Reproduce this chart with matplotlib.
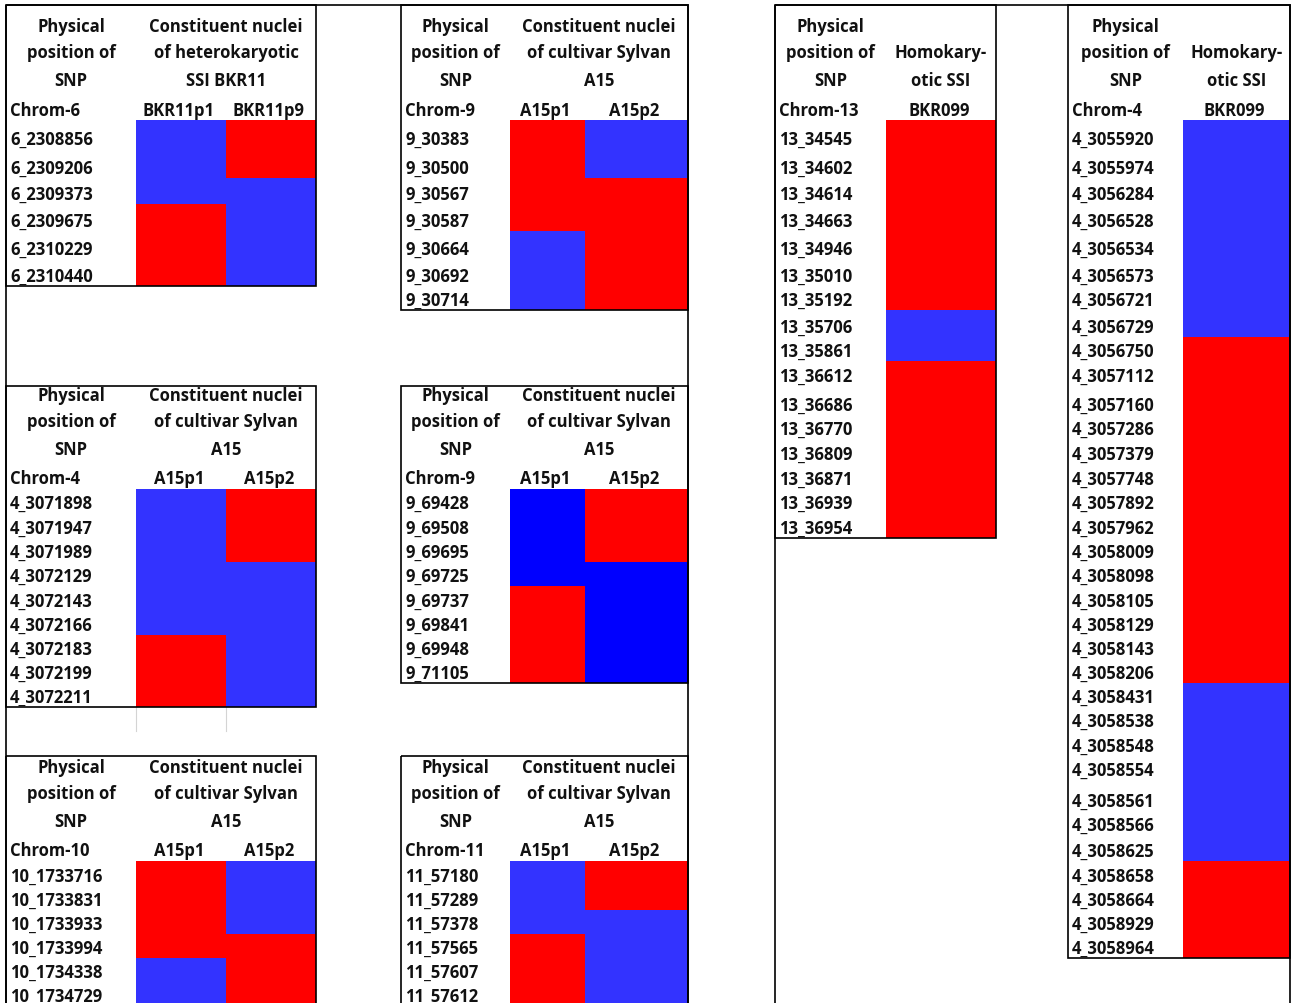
import matplotlib
matplotlib.use("Agg")
import matplotlib.pyplot as plt
from matplotlib.colors import ListedColormap
from matplotlib.patches import Rectangle
import numpy as np

plt.rcParams["font.family"] = ["Open Sans", "DejaVu Sans"]
plt.rcParams["font.weight"] = "bold"

# ---------------------------------------------------------------- data
# allele call per SNP and nucleus: 1 = red allele, 0 = blue allele

chr6_snps = ["6_2308856", "6_2309206", "6_2309373", "6_2309675", "6_2310229", "6_2310440"]
chr6_bkr11p1 = [0, 0, 0, 1, 1, 1]
chr6_bkr11p9 = [1, 1, 0, 0, 0, 0]

chr9a_snps = ["9_30383", "9_30500", "9_30567", "9_30587", "9_30664", "9_30692", "9_30714"]
chr9a_a15p1 = [1, 1, 1, 1, 0, 0, 0]
chr9a_a15p2 = [0, 0, 1, 1, 1, 1, 1]

chr4a_snps = ["4_3071898", "4_3071947", "4_3071989", "4_3072129", "4_3072143",
              "4_3072166", "4_3072183", "4_3072199", "4_3072211"]
chr4a_a15p1 = [0, 0, 0, 0, 0, 0, 1, 1, 1]
chr4a_a15p2 = [1, 1, 1, 0, 0, 0, 0, 0, 0]

chr9b_snps = ["9_69428", "9_69508", "9_69695", "9_69725", "9_69737", "9_69841", "9_69948", "9_71105"]
chr9b_a15p1 = [0, 0, 0, 0, 1, 1, 1, 1]
chr9b_a15p2 = [1, 1, 1, 0, 0, 0, 0, 0]

chr10_snps = ["10_1733716", "10_1733831", "10_1733933", "10_1733994", "10_1734338", "10_1734729"]
chr10_a15p1 = [1, 1, 1, 1, 0, 0]
chr10_a15p2 = [0, 0, 0, 1, 1, 1]

chr11_snps = ["11_57180", "11_57289", "11_57378", "11_57565", "11_57607", "11_57612"]
chr11_a15p1 = [0, 0, 0, 1, 1, 1]
chr11_a15p2 = [1, 1, 0, 0, 0, 0]

chr13_snps = ["13_34545", "13_34602", "13_34614", "13_34663", "13_34946", "13_35010",
              "13_35192", "13_35706", "13_35861", "13_36612", "13_36686", "13_36770",
              "13_36809", "13_36871", "13_36939", "13_36954"]
chr13_bkr099 = [1, 1, 1, 1, 1, 1, 1, 0, 0, 1, 1, 1, 1, 1, 1, 1]

chr4b_snps = ["4_3055920", "4_3055974", "4_3056284", "4_3056528", "4_3056534", "4_3056573",
              "4_3056721", "4_3056729", "4_3056750", "4_3057112", "4_3057160", "4_3057286",
              "4_3057379", "4_3057748", "4_3057892", "4_3057962", "4_3058009", "4_3058098",
              "4_3058105", "4_3058129", "4_3058143", "4_3058206", "4_3058431", "4_3058538",
              "4_3058548", "4_3058554", "4_3058561", "4_3058566", "4_3058625", "4_3058658",
              "4_3058664", "4_3058929", "4_3058964"]
chr4b_bkr099 = [0, 0, 0, 0, 0, 0, 0, 0,
                1, 1, 1, 1, 1, 1, 1, 1, 1, 1, 1, 1, 1, 1,
                0, 0, 0, 0, 0, 0, 0,
                1, 1, 1, 1]

snp_header = ["Physical", "position of", "SNP"]
a15_header = ["Constituent nuclei", "of cultivar Sylvan", "A15"]
bkr11_header = ["Constituent nuclei", "of heterokaryotic", "SSI BKR11"]
bkr099_header = ["", "Homokary-", "otic SSI"]

# ---------------------------------------------------------------- sheet layout
W, H = 1293, 1004
# horizontal grid lines of the sheet, top to bottom (pixels)
ROW_EDGES = [6, 37, 63, 91, 121, 150, 179, 205, 232, 260, 287, 311, 338, 362, 387,
             416, 440, 465, 490, 514, 539, 563, 587, 612, 636, 660, 684, 708, 732,
             757, 781, 812, 836, 862, 887, 911, 935, 959, 983, 1007]

LEFT_COLS = (6, [136, 226, 316])
MID_COLS = (401, [510, 585, 688])
G_COLS = (775, [886, 996])
H_COLS = (1068, [1183, 1290])

RED = "#FF0000"
BLUE = "#3333FF"
DEEP_BLUE = "#0000FF"
INK = "#111111"

panels = [
    dict(cols=LEFT_COLS, top=0, start=4, chrom="Chrom-6", snps=chr6_snps,
         calls=[chr6_bkr11p1, chr6_bkr11p9], names=["BKR11p1", "BKR11p9"],
         head=bkr11_header, blue=BLUE),
    dict(cols=MID_COLS, top=0, start=4, chrom="Chrom-9", snps=chr9a_snps,
         calls=[chr9a_a15p1, chr9a_a15p2], names=["A15p1", "A15p2"],
         head=a15_header, blue=BLUE),
    dict(cols=LEFT_COLS, top=14, start=18, chrom="Chrom-4", snps=chr4a_snps,
         calls=[chr4a_a15p1, chr4a_a15p2], names=["A15p1", "A15p2"],
         head=a15_header, blue=BLUE),
    dict(cols=MID_COLS, top=14, start=18, chrom="Chrom-9", snps=chr9b_snps,
         calls=[chr9b_a15p1, chr9b_a15p2], names=["A15p1", "A15p2"],
         head=a15_header, blue=DEEP_BLUE),
    dict(cols=LEFT_COLS, top=29, start=33, chrom="Chrom-10", snps=chr10_snps,
         calls=[chr10_a15p1, chr10_a15p2], names=["A15p1", "A15p2"],
         head=a15_header, blue=BLUE),
    dict(cols=MID_COLS, top=29, start=33, chrom="Chrom-11", snps=chr11_snps,
         calls=[chr11_a15p1, chr11_a15p2], names=["A15p1", "A15p2"],
         head=a15_header, blue=BLUE),
    dict(cols=G_COLS, top=0, start=4, chrom="Chrom-13", snps=chr13_snps,
         calls=[chr13_bkr099], names=["BKR099"], head=bkr099_header, blue=BLUE),
    dict(cols=H_COLS, top=0, start=4, chrom="Chrom-4", snps=chr4b_snps,
         calls=[chr4b_bkr099], names=["BKR099"], head=bkr099_header, blue=BLUE),
]

fig = plt.figure(figsize=(W / 100, H / 100), dpi=100)
ax = fig.add_axes([0, 0, 1, 1])
ax.set_xlim(0, W)
ax.set_ylim(H, 0)
ax.axis("off")

LW = 1.2
FS = 12.0
BASE = 10.5   # text centre above the bottom line of its sheet row

for p in panels:
    left, xedges = p["cols"]
    n = len(p["snps"])
    s = p["start"]
    yedges = np.array(ROW_EDGES[s:s + n + 1], dtype=float)
    grid = np.array(p["calls"]).T
    cmap = ListedColormap([p["blue"], RED])
    ax.pcolormesh(np.array(xedges, dtype=float), yedges, grid, cmap=cmap,
                  vmin=0, vmax=1, edgecolors="none", antialiased=False, zorder=1)

    right = xedges[-1]
    top = ROW_EDGES[p["top"]]
    bottom = yedges[-1]
    ax.add_patch(Rectangle((left, top), right - left, bottom - top, fill=False,
                           edgecolor="black", lw=LW, zorder=3))

    # SNP labels, sitting near the bottom of each sheet row
    for i, name in enumerate(p["snps"]):
        ax.text(left + 4, yedges[i + 1] - BASE, name, ha="left", va="center",
                fontsize=FS, color=INK, zorder=4)

    chrom_y = yedges[0] - BASE
    ax.text(left + 4, chrom_y, p["chrom"], ha="left", va="center",
            fontsize=FS, color=INK, zorder=4)

    mids = [(xedges[j] + xedges[j + 1]) / 2 for j in range(len(xedges) - 1)]
    for xm, nm in zip(mids, p["names"]):
        ax.text(xm - 2, chrom_y, nm, ha="center", va="center", fontsize=FS,
                color=INK, zorder=4)

    label_mid = (left + xedges[0]) / 2
    calls_mid = (xedges[0] + xedges[-1]) / 2
    for dy, a, b in zip([-83, -57, -29], snp_header, p["head"]):
        ax.text(label_mid, chrom_y + dy, a, ha="center", va="center",
                fontsize=FS, color=INK, zorder=4)
        if b:
            ax.text(calls_mid, chrom_y + dy, b, ha="center", va="center",
                    fontsize=FS, color=INK, zorder=4)

# light sheet gridlines below the Chrom-4 block
for x in LEFT_COLS[1][:2]:
    ax.plot([x, x], [ROW_EDGES[27], ROW_EDGES[28]], color="#d4d4d4", lw=0.8, zorder=0)

# outer frames of the two figure parts
for x0, x1 in [(6, 688), (775, 1290)]:
    ax.add_patch(Rectangle((x0, 6), x1 - x0, H + 20, fill=False,
                           edgecolor="black", lw=LW, zorder=3, clip_on=True))

fig.savefig("out.png", dpi=100)
